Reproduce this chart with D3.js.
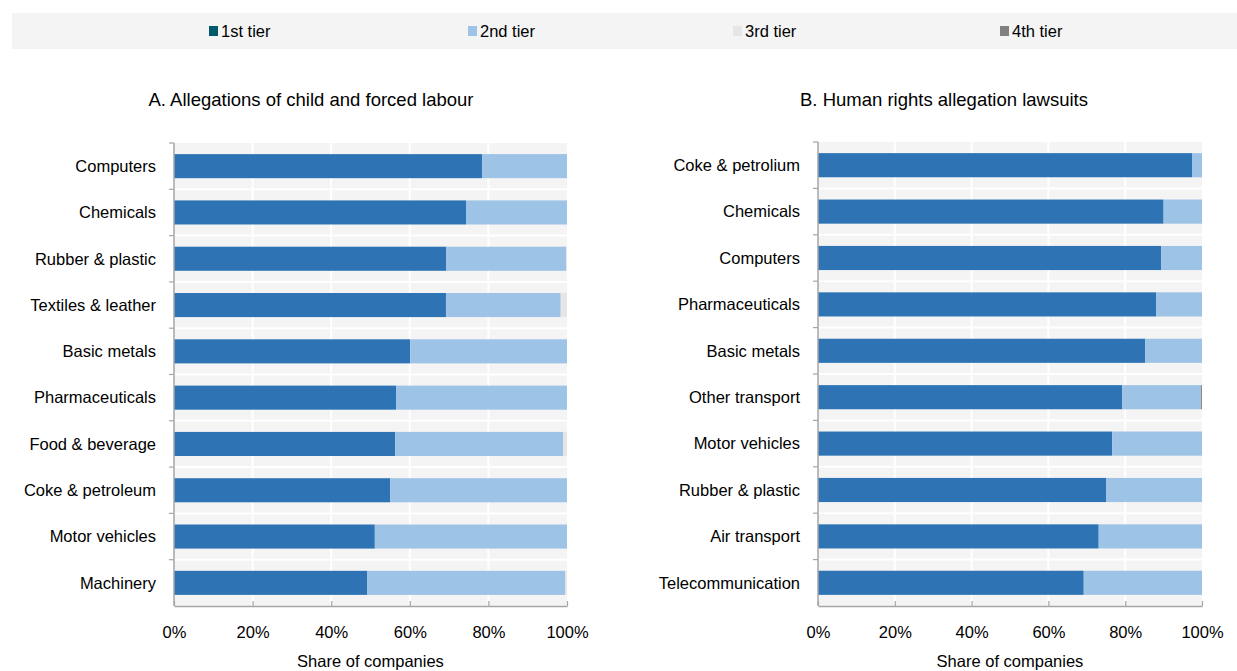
<!DOCTYPE html>
<html>
<head>
<meta charset="utf-8">
<script src="https://cdn.jsdelivr.net/npm/d3@7"></script>
<style>
  html, body { margin: 0; padding: 0; background: #ffffff; }
  svg { display: block; font-family: "Liberation Sans", Arial, sans-serif; }
</style>
</head>
<body>
<svg id="chart" width="1237" height="671"></svg>
<script>
// Tier series and their colours
const tiers = ["1st tier", "2nd tier", "3rd tier", "4th tier"];
const legendColors = ["#005a6b", "#9dc3e6", "#e6e6e6", "#808080"];
const barColors = ["#2e74b5", "#9dc3e6", "#e6e6e6", "#8c8c8c"];

// Panel A: allegations of child and forced labour (% of companies by tier)
const catsA = ["Computers", "Chemicals", "Rubber & plastic", "Textiles & leather", "Basic metals",
  "Pharmaceuticals", "Food & beverage", "Coke & petroleum", "Motor vehicles", "Machinery"];
const tier1A = [78.4, 74.3, 69.3, 69.2, 60.1, 56.5, 56.3, 55.0, 51.1, 49.2];
const tier2A = [21.6, 25.7, 30.5, 29.2, 39.9, 43.5, 42.7, 45.0, 48.9, 50.3];
const tier3A = [0, 0, 0.2, 1.6, 0, 0, 1.0, 0, 0, 0.5];
const tier4A = [0, 0, 0, 0, 0, 0, 0, 0, 0, 0];

// Panel B: human rights allegation lawsuits (% of companies by tier)
const catsB = ["Coke & petrolium", "Chemicals", "Computers", "Pharmaceuticals", "Basic metals",
  "Other transport", "Motor vehicles", "Rubber & plastic", "Air transport", "Telecommunication"];
const tier1B = [97.4, 90.0, 89.4, 88.1, 85.2, 79.2, 76.6, 75.1, 73.1, 69.2];
const tier2B = [2.6, 10.0, 10.6, 11.9, 14.8, 20.5, 23.4, 24.9, 26.9, 30.8];
const tier3B = [0, 0, 0, 0, 0, 0, 0, 0, 0, 0];
const tier4B = [0, 0, 0, 0, 0, 0.3, 0, 0, 0, 0];

const xTicks = [0, 20, 40, 60, 80, 100];

const svg = d3.select("#chart");

// Legend strip
svg.append("rect").attr("x", 12).attr("y", 13).attr("width", 1225).attr("height", 36).attr("fill", "#f4f4f4");
const legendX = [209, 468, 733, 1000];
tiers.forEach((t, i) => {
  const g = svg.append("g").attr("transform", `translate(${legendX[i]},31)`);
  g.append("rect").attr("x", 0).attr("y", -5).attr("width", 9).attr("height", 10).attr("fill", legendColors[i]);
  g.append("text").attr("x", 12).attr("y", 0).attr("dy", "0.35em")
    .attr("font-size", 16.5).attr("fill", "#000").text(t);
});

function panel(opts) {
  const { cats, series, left, right, top, bottom, title, titleX } = opts;
  const x = d3.scaleLinear().domain([0, 100]).range([left, right]);
  const y = d3.scaleBand().domain(cats).range([top, bottom]).paddingInner(0.48).paddingOuter(0.24);
  const g = svg.append("g");

  // Plot background
  g.append("rect").attr("x", left).attr("y", top).attr("width", right - left).attr("height", bottom - top)
    .attr("fill", "#f4f4f4");

  // White vertical gridlines
  g.selectAll(".vgrid").data(xTicks.slice(1, -1)).join("line")
    .attr("x1", d => x(d)).attr("x2", d => x(d)).attr("y1", top).attr("y2", bottom)
    .attr("stroke", "#ffffff").attr("stroke-width", 2);

  // White horizontal lines at band boundaries
  const step = y.step();
  const bounds = d3.range(1, cats.length).map(i => top + i * step);
  g.selectAll(".hgrid").data(bounds).join("line")
    .attr("x1", left).attr("x2", right).attr("y1", d => d).attr("y2", d => d)
    .attr("stroke", "#ffffff").attr("stroke-width", 2);

  // Stacked bars
  const rows = cats.map((c, i) => {
    const o = { cat: c };
    tiers.forEach((t, k) => { o[t] = series[k][i]; });
    return o;
  });
  const stacked = d3.stack().keys(tiers)(rows);
  stacked.forEach((layer, k) => {
    g.selectAll(null).data(layer.filter(d => d[1] - d[0] > 0)).join("rect")
      .attr("x", d => x(d[0]))
      .attr("width", d => Math.max(0.8, x(d[1]) - x(d[0])))
      .attr("y", d => y(d.data.cat))
      .attr("height", y.bandwidth())
      .attr("fill", barColors[k]);
  });

  // Category axis
  const yAxis = g.append("g").attr("transform", `translate(${left},0)`);
  yAxis.append("line").attr("x1", 0).attr("x2", 0).attr("y1", top).attr("y2", bottom)
    .attr("stroke", "#a6a6a6").attr("stroke-width", 1.5);
  yAxis.selectAll(".ytick").data([top, ...bounds]).join("line")
    .attr("x1", -5).attr("x2", 0).attr("y1", d => d).attr("y2", d => d)
    .attr("stroke", "#a6a6a6").attr("stroke-width", 1.2);
  yAxis.selectAll(".ylab").data(cats).join("text")
    .attr("x", -18).attr("y", d => y(d) + y.bandwidth() / 2).attr("dy", "0.35em")
    .attr("text-anchor", "end").attr("font-size", 16.5).attr("fill", "#000").text(d => d);

  // Value axis
  const xAxis = g.append("g").attr("transform", `translate(0,${bottom})`)
    .call(d3.axisBottom(x).tickValues(xTicks).tickSize(0).tickPadding(20).tickFormat(d => d + "%"));
  xAxis.select(".domain").attr("stroke", "#a6a6a6").attr("stroke-width", 1.5);
  xAxis.selectAll(".tick text").attr("font-size", 16.5).attr("fill", "#000").attr("font-family", "Liberation Sans, Arial, sans-serif");
  xAxis.selectAll(".tick").append("line").attr("y1", 0).attr("y2", -5)
    .attr("stroke", "#a6a6a6").attr("stroke-width", 1.2);

  g.append("text").attr("x", (left + right) / 2).attr("y", bottom + 61)
    .attr("text-anchor", "middle").attr("font-size", 16.5).attr("fill", "#000").text("Share of companies");

  g.append("text").attr("x", titleX).attr("y", 100).attr("dy", "0.35em")
    .attr("text-anchor", "middle").attr("font-size", 18.5).attr("fill", "#000").text(title);
}

panel({
  cats: catsA, series: [tier1A, tier2A, tier3A, tier4A],
  left: 174, right: 567, top: 143, bottom: 606,
  title: "A. Allegations of child and forced labour", titleX: 311
});
panel({
  cats: catsB, series: [tier1B, tier2B, tier3B, tier4B],
  left: 818, right: 1202, top: 142, bottom: 606,
  title: "B. Human rights allegation lawsuits", titleX: 944
});
</script>
</body>
</html>
